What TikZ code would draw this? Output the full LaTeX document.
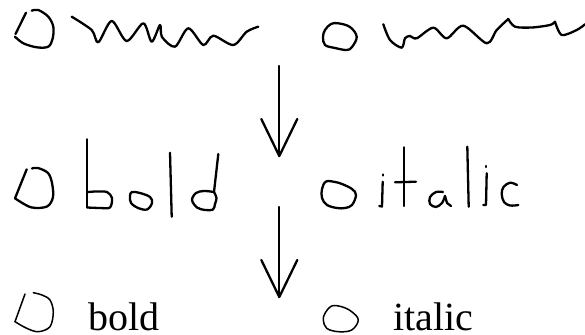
\documentclass[tikz,border=0pt]{standalone}
\usepackage{fontspec}
\setmainfont{Liberation Serif}
\usetikzlibrary{calc}
\tikzset{pen/.style={line width=2.3pt, line cap=round, line join=round},
	printed/.style={anchor=base west, inner sep=0pt, text depth=0pt, font=\fontsize{40}{48}\selectfont}}
\def\flowarrow(#1)(#2){\draw[pen] (#1) -- (#2); \draw[pen] ($(#2)+(-18,-37)$) -- (#2) -- ($(#2)+(18,-37)$);}

\begin{document}
\begin{tikzpicture}[x=1pt, y=-1pt]
			%%%%% START %%%%%
			\useasboundingbox (0, 0) rectangle (585, 334);
			
			% first row
			\draw[pen] plot[smooth, tension=0.55] coordinates {(31.7, 10.7) (38.3, 10) (48.3, 16.7) (53.3, 26.7) (52.7, 38.3) (48.3, 46.7) (36.7, 47.3) (23.3, 43.3) (15, 36.7)};
			\draw[pen] (15.5, 34) -- (26, 12.7);
			\draw[pen] plot[smooth, tension=0.5] coordinates {(71.7, 16.7) (91.7, 30) (98.3, 42.3) (111.7, 21) (126.7, 41) (143.3, 23.3) (151.7, 41.7) (160, 25) (162, 37) (175, 46.7) (188.3, 28.3) (203.3, 45) (213.3, 35.7) (233.3, 45) (246.7, 31.7) (258.3, 26.7)};
			
			\draw[pen] plot[smooth cycle, tension=0.6] coordinates {(325, 30) (331, 24) (338.3, 23.3) (350, 27) (356.7, 36.7) (352, 47) (346.7, 50) (335, 48) (325, 45) (323, 37)};
			\draw[pen] plot[smooth, tension=0.5] coordinates {(383.3, 24.3) (390, 40) (401.7, 47.7) (405, 38.3) (410, 36) (416.7, 38.3) (433.3, 27.7) (446.7, 38.3) (463.3, 25.7) (486.7, 43.3) (496.7, 30) (508.3, 19)};
			\draw[pen] plot[smooth, tension=0.5] coordinates {(508.3, 19) (515, 26.7) (532, 27.5) (550, 25) (555, 21.7)};
			\draw[pen] plot[smooth, tension=0.5] coordinates {(555, 21.7) (561.7, 35) (576.7, 30) (585, 24.3)};
			
			\coordinate (a1s) at (279.3, 66);
			\coordinate (a1e) at (279.3, 156);
			\flowarrow(a1s)(a1e)
			
			% second row
			\draw[pen] plot[smooth, tension=0.55] coordinates {(32, 168.5) (38, 168) (48, 173) (52, 183) (53, 197) (47, 206.5) (31, 207.3) (15, 198.3)};
			\draw[pen] (15, 198.3) -- (26.7, 169.3);
			
			\draw[pen] (87.3, 139.3) -- (87.3, 207.5);
			\draw[pen] plot[smooth, tension=0.5] coordinates {(87.3, 207.5) (100, 208) (110, 207.5) (112, 198) (107, 192) (96, 191.5) (88.3, 192)};
			\draw[pen] plot[smooth cycle, tension=0.6] coordinates {(132, 192) (140, 193) (150, 197) (152, 203) (147, 209.5) (138, 208) (131, 203) (130, 196)};
			\draw[pen] (170, 152.7) -- (171.7, 216.7);
			\draw[pen] (218.3, 154) -- (214, 192);
			\draw[pen] plot[smooth, tension=0.55] coordinates {(214, 192) (216.5, 198) (215, 204) (213, 209.5) (205, 210) (197, 207.5) (192, 200) (196, 193) (204, 191) (214, 192)};
			
			\draw[pen] plot[smooth cycle, tension=0.6] coordinates {(326, 181.5) (335, 182) (342, 184) (352, 189) (356, 195) (352, 205) (345, 208) (337, 208) (327, 205) (322, 198) (322, 189)};
			\draw[pen] (382.7, 174.5) -- (382.7, 175.5);
			\draw[pen] (382.7, 181.7) -- (382, 206.5) -- (379.3, 206);
			\draw[pen] (404, 147.3) -- (404, 206);
			\draw[pen] (395, 182.3) -- (416, 181.7);
			\draw[pen] plot[smooth, tension=0.55] coordinates {(443, 192) (436, 192) (430, 197) (430, 204) (436, 207) (442, 203) (445, 196)};
			\draw[pen] (445, 196) -- (447, 203) -- (451, 206);
			\draw[pen] (467.3, 146.7) -- (468.7, 206.7);
			\draw[pen] (486, 166) -- (486, 167);
			\draw[pen] (486.7, 173.3) -- (486, 205) -- (483.3, 205);
			\draw[pen] plot[smooth, tension=0.6] coordinates {(517, 185) (510, 182.7) (503.5, 187) (501.7, 194) (504, 202) (510, 205.5) (518.3, 205)};
			
			\coordinate (a2s) at (279.3, 207);
			\coordinate (a2e) at (279.3, 297);
			\flowarrow(a2s)(a2e)
			
			% third row
			\draw[pen, line width=1.5pt] plot[smooth, tension=0.55] coordinates {(33.3, 292.7) (42, 295) (50, 300) (53.3, 312) (50, 326.7) (38.3, 331.7) (26.7, 328.3) (15, 321.7)};
			\draw[pen, line width=1.5pt] (15, 321.7) -- (25, 294);
			\node[printed] (boldtxt) at (88, 330) {bold};
			
			\draw[pen, line width=1.5pt] plot[smooth cycle, tension=0.6] coordinates {(325, 313.3) (331.7, 306) (341.7, 306.7) (351.7, 311.7) (358.3, 320) (351.7, 330) (338.3, 331.7) (326.7, 328.3) (323.3, 320)};
			\node[printed] (italictxt) at (393.3, 330) {italic};
			%%%%% END %%%%%
\end{tikzpicture}
\end{document}
